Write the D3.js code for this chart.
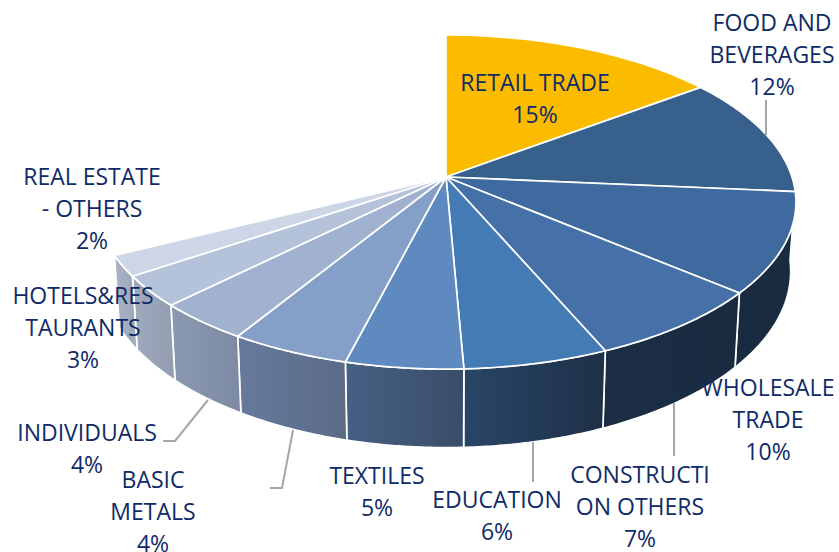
<!DOCTYPE html>
<html>
<head>
<meta charset="utf-8">
<script src="https://cdn.jsdelivr.net/npm/d3@7/dist/d3.min.js"></script>
<style>
html, body { margin: 0; padding: 0; background: #fff; }
svg { display: block; }
text { font-family: "Open Sans", sans-serif; font-size: 23px; fill: #0f2b67; text-anchor: middle; }
</style>
</head>
<body>
<script>
const width = 839, height = 552;

// slice names, as the chart wraps them
const categories = ['RETAIL TRADE', 'FOOD AND BEVERAGES', 'WHOLESALE TRADE', 'CONSTRUCTION OTHERS', 'EDUCATION',
    'TEXTILES', 'BASIC METALS', 'INDIVIDUALS', 'HOTELS&RESTAURANTS', 'REAL ESTATE - OTHERS'];
// share of the whole circle (the rest of the circle is left empty)
const shares = [14.8, 11.6, 9.7, 7.4, 5.8, 4.7, 4.8, 3.8, 3.0, 2.0];
const percentLabels = ['15%', '12%', '10%', '7%', '6%', '5%', '4%', '4%', '3%', '2%'];

const topColors = ['#fbbc00', '#37618c', '#3f6a9f', '#4670a8', '#457bb5', '#5f8abf', '#85a0c8', '#a0b2d0', '#b5c3da', '#ccd6e6'];
const wallLeft = ['#fbbc00', '#37618c', '#1a2b40', '#1c2e45', '#294566', '#466084', '#677a9b', '#8b99b2', '#a0aabd', '#a9b3c5'];
const wallRight = ['#fbbc00', '#37618c', '#1a2b40', '#1a2b40', '#1e3047', '#3a4d68', '#5a6b87', '#7c8aa3', '#929db1', '#9ca7ba'];

// label text lines and where they sit
const labelLines = [['RETAIL TRADE'], ['FOOD AND', 'BEVERAGES'], ['WHOLESALE', 'TRADE'], ['CONSTRUCTI', 'ON OTHERS'], ['EDUCATION'],
    ['TEXTILES'], ['BASIC', 'METALS'], ['INDIVIDUALS'], ['HOTELS&RES', 'TAURANTS'], ['REAL ESTATE', '- OTHERS']];
const labelX = [535, 772, 768, 640, 497, 377, 153, 87, 83, 92];
const labelY = [91, 31, 396, 483, 508, 484, 488, 441, 304, 185];
const lineGap = 32;

const leaders = [
    [[766, 100], [766, 135]],
    [[674, 403], [674, 456]],
    [[533, 442], [533, 482]],
    [[293, 430], [282, 488], [270, 488]],
    [[208, 400], [175, 441], [163, 441]]
];

// perspective of the tilted disc
const cx = 446, cy = 177, rx = 346, ry = 163.3, persp = 0.1497;
const project = a => {
    const u = Math.sin(a), v = -Math.cos(a), w = 1 - persp * v;
    return [rx * u / w, ry * v / w];
};
const topPoint = a => {
    const p = project(a);
    return [cx + p[0], cy + p[1]];
};
// lower rim of the wall
const lowPoint = a => {
    const p = project(a);
    return [cx + 0.985 * p[0], cy + 68 + 1.055 * p[1]];
};

const pie = d3.pie().sort(null).startAngle(0).endAngle(2 * Math.PI * d3.sum(shares) / 100);
const arcs = pie(shares);
const line = d3.line();

const rim = (fn, a0, a1) => d3.range(0, 41).map(i => fn(a0 + (a1 - a0) * i / 40));

const svg = d3.select('body').append('svg').attr('width', width).attr('height', height);
const defs = svg.append('defs');

arcs.forEach((d, i) => {
    const g = defs.append('linearGradient').attr('id', `wall${i}`);
    g.append('stop').attr('offset', '0%').attr('stop-color', wallLeft[i]);
    g.append('stop').attr('offset', '100%').attr('stop-color', wallRight[i]);
});

// walls, only the ones turned towards the viewer
const walls = arcs.filter(d => d.startAngle > Math.PI / 2);
svg.append('g').selectAll('path').data(walls).join('path')
    .attr('d', d => line(rim(topPoint, d.startAngle, d.endAngle).concat(rim(lowPoint, d.endAngle, d.startAngle))) + 'Z')
    .attr('fill', d => `url(#wall${d.index})`)
    .attr('stroke', '#fff')
    .attr('stroke-width', 1.7)
    .attr('stroke-linejoin', 'round');

// top of the disc
svg.append('g').selectAll('path').data(arcs).join('path')
    .attr('d', d => line([[cx, cy]].concat(rim(topPoint, d.startAngle, d.endAngle))) + 'Z')
    .attr('fill', d => topColors[d.index])
    .attr('stroke', '#fff')
    .attr('stroke-width', 1.7)
    .attr('stroke-linejoin', 'round');

svg.append('g').selectAll('path').data(leaders).join('path')
    .attr('d', d => line(d))
    .attr('fill', 'none')
    .attr('stroke', '#a6a6a6')
    .attr('stroke-width', 2);

const labels = svg.append('g').selectAll('text').data(arcs).join('text')
    .attr('transform', d => `translate(${labelX[d.index]},${labelY[d.index]})`);
labels.selectAll('tspan')
    .data(d => labelLines[d.index].concat(percentLabels[d.index]))
    .join('tspan')
    .attr('x', 0)
    .attr('y', (d, i) => i * lineGap)
    .text(d => d);
</script>
</body>
</html>
